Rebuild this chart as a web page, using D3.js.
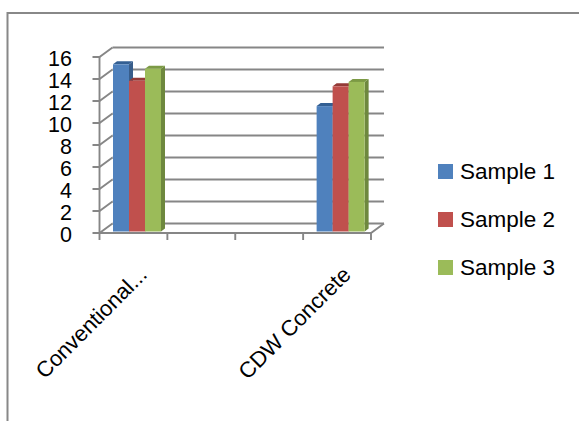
<!DOCTYPE html>
<html>
<head>
  <title>Sample columns</title>
  <script src="https://d3js.org/d3.v7.min.js"></script>
  <style>
    body { margin: 0; background: #fff; }
    svg { font-family: "Liberation Sans", Arial, sans-serif; }
    .grid { stroke: #868686; stroke-width: 1.9px; fill: none; }
  </style>
</head>
<body>
  <svg width="579" height="421"></svg>

  <script>
    // categories (two blank slots sit between the two mixes)
    const categories = ["Conventional...", "", "", "CDW Concrete"];
    const seriesNames = ["Sample 1", "Sample 2", "Sample 3"];
    const sample1 = [15.2, null, null, 11.4];
    const sample2 = [13.7, null, null, 13.2];
    const sample3 = [14.8, null, null, 13.6];
    const yTicks = [0, 2, 4, 6, 8, 10, 12, 14, 16];

    const colors = ["#4F81BD", "#C0504D", "#9BBB59"];
    const topColors = ["#335F93", "#943A37", "#7C9A45"];
    const sideColors = ["#385D8A", "#8C3836", "#6E883E"];

    const svg = d3.select("svg");

    // chart area border (top and left only are visible)
    svg.append("path")
      .attr("d", "M7.5,421V13H579")
      .attr("fill", "none")
      .attr("stroke", "#888")
      .attr("stroke-width", 2);

    const plot = { left: 99.5, right: 371, bottom: 233, top: 57 };
    const depth = { dx: 13, dy: -9.5 };

    const x = d3.scaleBand()
      .domain(d3.range(categories.length))
      .range([plot.left, plot.right])
      .paddingInner(0).paddingOuter(0);

    const y = d3.scaleLinear()
      .domain([0, 16])
      .range([plot.bottom, plot.top]);

    const g = svg.append("g");

    // back wall gridlines
    g.selectAll(".back")
      .data(yTicks)
      .join("line")
      .attr("class", "grid")
      .attr("x1", plot.left + depth.dx)
      .attr("x2", plot.right + depth.dx)
      .attr("y1", d => y(d) + depth.dy)
      .attr("y2", d => y(d) + depth.dy);

    // side wall lines and ticks
    g.selectAll(".side")
      .data(yTicks)
      .join("path")
      .attr("class", "grid")
      .attr("d", d => `M${plot.left - 7},${y(d)}H${plot.left}L${plot.left + depth.dx},${y(d) + depth.dy}`);

    // value axis
    g.append("line")
      .attr("class", "grid")
      .attr("x1", plot.left).attr("x2", plot.left)
      .attr("y1", y(0)).attr("y2", y(16));

    // floor front edge and right edge
    g.append("path")
      .attr("class", "grid")
      .attr("d", `M${plot.left},${y(0)}H${plot.right}l${depth.dx},${depth.dy}`);

    // category ticks
    const tickXs = d3.range(categories.length + 1).map(i => plot.left + i * x.bandwidth());
    g.selectAll(".xtick")
      .data(tickXs)
      .join("line")
      .attr("class", "grid")
      .attr("x1", d => d).attr("x2", d => d)
      .attr("y1", y(0)).attr("y2", y(0) + 7);

    // y labels
    svg.append("g")
      .selectAll("text")
      .data(yTicks)
      .join("text")
      .attr("x", 72)
      .attr("y", d => y(d) + 2)
      .attr("text-anchor", "end")
      .attr("dominant-baseline", "central")
      .attr("font-size", 21.5)
      .attr("fill", "#000")
      .text(d => d);

    // bars
    const values = [sample1, sample2, sample3];
    const inner = d3.scaleBand()
      .domain(d3.range(seriesNames.length))
      .range([13.5, 13.5 + 48]);
    const bar = { dx: 4, dy: -3, lift: 1.5 };
    const yb = v => y(v) - bar.lift;

    const bars = [];
    categories.forEach((c, ci) => {
      values.forEach((s, si) => {
        if (s[ci] != null) bars.push({ ci, si, v: s[ci] });
      });
    });

    const bg = svg.append("g")
      .selectAll("g")
      .data(bars)
      .join("g");

    bg.append("path")
      .attr("fill", d => sideColors[d.si])
      .attr("d", d => {
        const x0 = x(d.ci) + inner(d.si) + inner.bandwidth();
        return `M${x0},${yb(d.v)}l${bar.dx},${bar.dy}V${yb(0) + bar.dy}l${-bar.dx},${-bar.dy}Z`;
      });
    bg.append("path")
      .attr("fill", d => topColors[d.si])
      .attr("d", d => {
        const x0 = x(d.ci) + inner(d.si);
        return `M${x0},${yb(d.v)}l${bar.dx},${bar.dy}h${inner.bandwidth()}l${-bar.dx},${-bar.dy}Z`;
      });
    bg.append("rect")
      .attr("fill", d => colors[d.si])
      .attr("x", d => x(d.ci) + inner(d.si))
      .attr("width", inner.bandwidth())
      .attr("y", d => yb(d.v))
      .attr("height", d => yb(0) - yb(d.v));

    // category labels, rotated
    svg.append("g")
      .selectAll("text")
      .data(categories.map((c, i) => ({ c, i })).filter(d => d.c !== ""))
      .join("text")
      .attr("transform", d => `translate(${x(d.i) + x.bandwidth() / 2 + 15},${y(0) + 43}) rotate(-45)`)
      .attr("text-anchor", "end")
      .attr("font-size", 22)
      .attr("fill", "#000")
      .text(d => d.c);

    // legend
    const legend = svg.append("g")
      .selectAll("g")
      .data(seriesNames)
      .join("g")
      .attr("transform", (d, i) => `translate(438,${164 + i * 48})`);
    legend.append("rect")
      .attr("width", 15).attr("height", 15)
      .attr("fill", (d, i) => colors[i]);
    legend.append("text")
      .attr("x", 22)
      .attr("y", 14.5)
      .attr("font-size", 22.5)
      .attr("fill", "#000")
      .text(d => d);
  </script>
</body>
</html>
